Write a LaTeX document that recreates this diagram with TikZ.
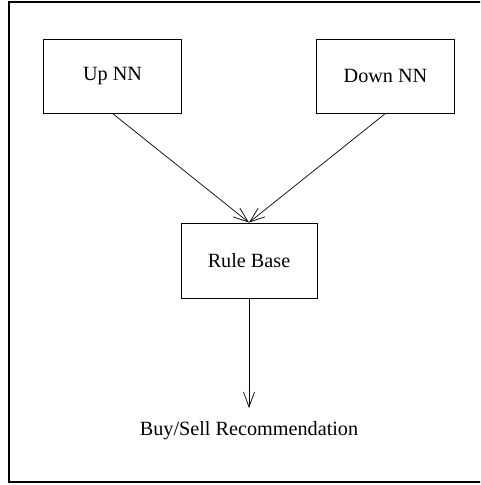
\documentclass[tikz,border=0pt]{standalone}
\usepackage{fontspec}
\setmainfont{Liberation Serif}
\usetikzlibrary{arrows.meta}

\tikzset{
  unit/.style={draw, line width=0.5pt, minimum width=2.76cm, minimum height=1.48cm, inner sep=0pt},
  link/.style={line width=0.4pt, -{Straight Barb[length=3mm,width=2.2mm]}}
}

\begin{document}
\begin{tikzpicture}[font=\fontsize{11.5}{14}\selectfont]

\useasboundingbox (0,0) rectangle (9.6,9.7);
\clip (0,0) rectangle (9.6,9.7);
\draw[line width=0.6pt] (0.18,0.06) rectangle (9.78,9.66);

\node[unit] (b1) at (2.25,8.18) {Up NN};
\node[unit] (b2) at (7.71,8.18) {Down NN};
\node[unit, minimum width=2.72cm, minimum height=1.5cm] (b3) at (4.98,4.49) {Rule Base};
\node[anchor=base, inner sep=0pt] (b4) at (4.98,0.98) {Buy/Sell Recommendation};
\coordinate (b5) at (4.98,1.54);

\draw[link] (b1.south) -- (b3.north);
\draw[link] (b2.south) -- (b3.north);
\draw[link] (b3.south) -- (b5);

\end{tikzpicture}
\end{document}
